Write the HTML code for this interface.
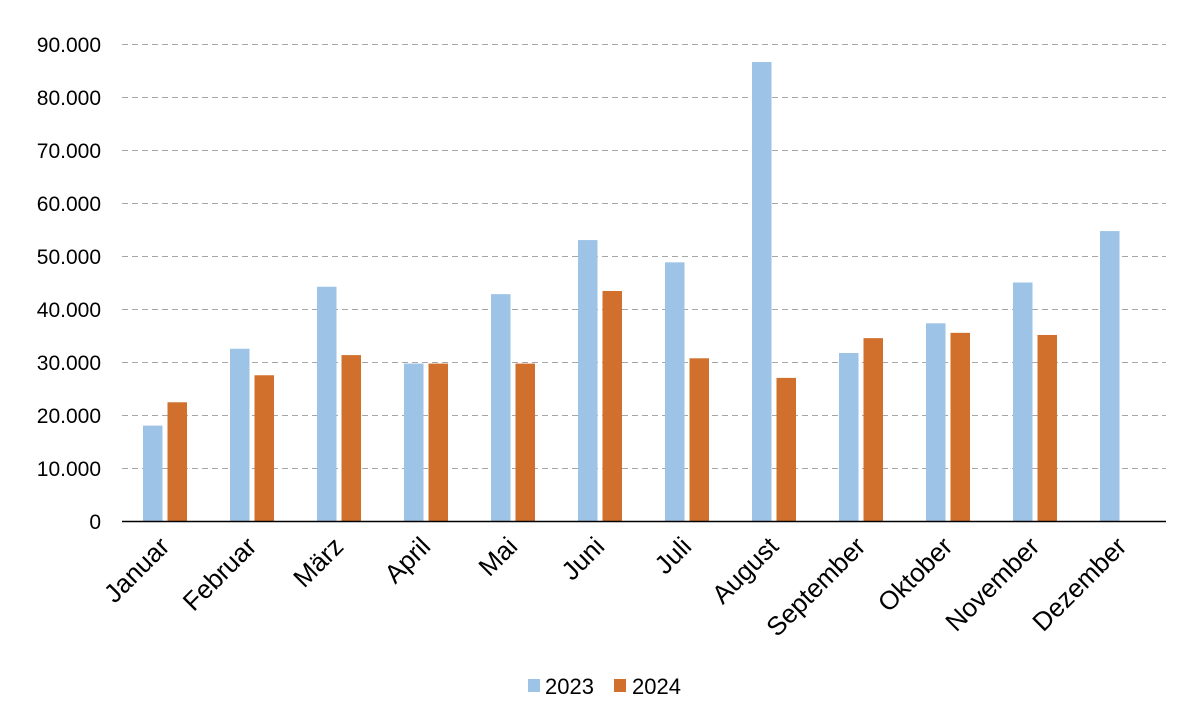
<!DOCTYPE html>
<html><head><meta charset="utf-8"><style>body{margin:0;background:#fff}svg{display:block}text{font-family:"Liberation Sans",Arial,sans-serif;fill:#000}</style></head><body>
<svg width="1200" height="722" viewBox="0 0 1200 722">
<g stroke="#a6a6a6" stroke-width="1" stroke-dasharray="6,4">
<line x1="122" x2="1166" y1="44.5" y2="44.5"/><line x1="122" x2="1166" y1="97.5" y2="97.5"/><line x1="122" x2="1166" y1="150.5" y2="150.5"/><line x1="122" x2="1166" y1="203.5" y2="203.5"/><line x1="122" x2="1166" y1="256.5" y2="256.5"/><line x1="122" x2="1166" y1="309.5" y2="309.5"/><line x1="122" x2="1166" y1="362.5" y2="362.5"/><line x1="122" x2="1166" y1="415.5" y2="415.5"/><line x1="122" x2="1166" y1="468.5" y2="468.5"/>
</g>
<g font-size="21" text-anchor="end">
<text x="101" y="52">90.000</text><text x="101" y="105">80.000</text><text x="101" y="158">70.000</text><text x="101" y="211">60.000</text><text x="101" y="264">50.000</text><text x="101" y="317">40.000</text><text x="101" y="370">30.000</text><text x="101" y="423">20.000</text><text x="101" y="476">10.000</text><text x="101" y="529">0</text>
</g>
<g fill="#9dc3e6">
<rect x="143" y="425.6" width="19.5" height="95.4"/>
<rect x="230" y="348.75" width="19.5" height="172.25"/>
<rect x="317" y="286.74" width="19.5" height="234.26"/>
<rect x="404" y="363.59" width="19.5" height="157.41"/>
<rect x="491" y="294.16" width="19.5" height="226.84"/>
<rect x="578" y="240.1" width="19.5" height="280.9"/>
<rect x="665" y="262.36" width="19.5" height="258.64"/>
<rect x="752" y="62.02" width="19.5" height="458.98"/>
<rect x="839" y="352.99" width="19.5" height="168.01"/>
<rect x="926" y="323.31" width="19.5" height="197.69"/>
<rect x="1013" y="282.5" width="19.5" height="238.5"/>
<rect x="1100" y="231.09" width="19.5" height="289.91"/>
</g>
<g fill="#d0702c">
<rect x="167.5" y="402.28" width="19.5" height="118.72"/>
<rect x="254.5" y="375.25" width="19.5" height="145.75"/>
<rect x="341.5" y="355.11" width="19.5" height="165.89"/>
<rect x="428.5" y="363.59" width="19.5" height="157.41"/>
<rect x="515.5" y="363.59" width="19.5" height="157.41"/>
<rect x="602.5" y="290.98" width="19.5" height="230.02"/>
<rect x="689.5" y="358.29" width="19.5" height="162.71"/>
<rect x="776.5" y="377.9" width="19.5" height="143.1"/>
<rect x="863.5" y="338.15" width="19.5" height="182.85"/>
<rect x="950.5" y="332.85" width="19.5" height="188.15"/>
<rect x="1037.5" y="334.97" width="19.5" height="186.03"/>
</g>
<line x1="122" x2="1166" y1="521.5" y2="521.5" stroke="#000" stroke-width="1.5"/>
<g font-size="26" text-anchor="end">
<text x="171" y="548" transform="rotate(-45 171 548)">Januar</text>
<text x="258" y="548" transform="rotate(-45 258 548)">Februar</text>
<text x="345" y="548" transform="rotate(-45 345 548)">März</text>
<text x="432" y="548" transform="rotate(-45 432 548)">April</text>
<text x="519" y="548" transform="rotate(-45 519 548)">Mai</text>
<text x="606" y="548" transform="rotate(-45 606 548)">Juni</text>
<text x="693" y="548" transform="rotate(-45 693 548)">Juli</text>
<text x="780" y="548" transform="rotate(-45 780 548)">August</text>
<text x="867" y="548" transform="rotate(-45 867 548)">September</text>
<text x="954" y="548" transform="rotate(-45 954 548)">Oktober</text>
<text x="1041" y="548" transform="rotate(-45 1041 548)">November</text>
<text x="1128" y="548" transform="rotate(-45 1128 548)">Dezember</text>
</g>
<rect x="528" y="679" width="12" height="13" fill="#9dc3e6"/><text x="545" y="694" font-size="22">2023</text>
<rect x="614" y="679" width="12" height="13" fill="#d0702c"/><text x="632" y="694" font-size="22">2024</text>
</svg>
</body></html>
